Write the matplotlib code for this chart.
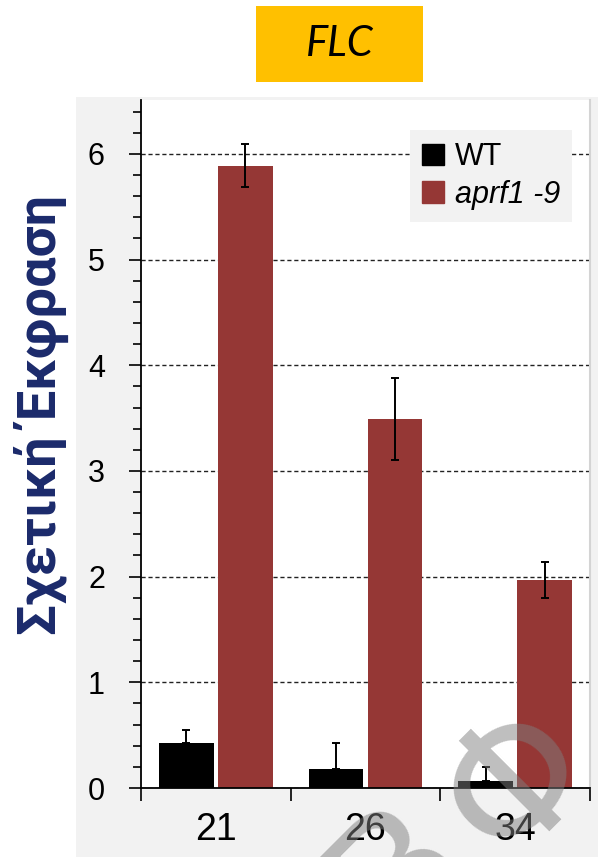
import numpy as np
import matplotlib
matplotlib.use('Agg')
import matplotlib.pyplot as plt
from matplotlib.patches import Patch, Rectangle
from matplotlib.ticker import MultipleLocator

# values
days = ['21', '26', '34']
wt_mean = [0.43, 0.18, 0.07]
wt_err = [0.12, 0.25, 0.13]
mut_mean = [5.89, 3.49, 1.97]
mut_err = [0.20, 0.39, 0.17]

RED = '#953735'
NAVY = '#1b2a6b'
W, H = 598, 857

plt.rcParams['font.family'] = ['Liberation Sans', 'DejaVu Sans']

fig = plt.figure(figsize=(W / 100, H / 100), dpi=100)
fig.patch.set_facecolor('white')

# grey chart area behind the plot
fig.add_artist(Rectangle((76 / W, 0), 1 - 76 / W, 1 - 97 / H, transform=fig.transFigure,
                         facecolor='#f2f2f2', edgecolor='none', zorder=0))

ax = fig.add_axes([141 / W, 1 - 788 / H, (590 - 141) / W, (788 - 100) / H])
ax.set_facecolor('white')

x = np.arange(len(days))
bw = 0.365
ax.bar(x - 0.198, wt_mean, bw, color='black', zorder=2,
       yerr=[np.zeros(len(days)), wt_err],
       error_kw=dict(ecolor='black', elinewidth=1.4, capsize=3, capthick=1.4))
ax.bar(x + 0.198, mut_mean, bw, color=RED, zorder=2,
       yerr=mut_err,
       error_kw=dict(ecolor='black', elinewidth=1.4, capsize=3, capthick=1.4))

ax.set_xlim(-0.5, 2.5)
ax.set_ylim(0, 6.51)

ax.set_yticks(range(7))
ax.yaxis.set_minor_locator(MultipleLocator(0.2))
ax.yaxis.grid(True, which='major', linestyle=(0, (3, 2)), color='#222222', linewidth=1.0)
ax.set_axisbelow(True)

ax.set_xticks([-0.5, 0.5, 1.5, 2.5])
ax.set_xticklabels([])
ax.set_xticks(x, minor=True)
ax.set_xticklabels(days, minor=True)

ax.tick_params(axis='y', which='major', direction='out', length=9, width=1.2,
               labelsize=22, pad=17)
ax.tick_params(axis='y', which='minor', direction='out', length=6, width=1.2)
ax.tick_params(axis='x', which='major', direction='out', length=9, width=1.2)
ax.tick_params(axis='x', which='minor', length=0, labelsize=27, pad=17)

for s in ['left', 'bottom']:
    ax.spines[s].set_linewidth(1.3)
ax.spines['top'].set_visible(False)
ax.spines['right'].set_color('#d4d4d4')
ax.spines['right'].set_linewidth(1.5)

handles = [Patch(color='black', label='WT'), Patch(color=RED, label='aprf1 -9')]
leg = ax.legend(handles=handles, loc='upper right',
                bbox_to_anchor=((572 - 141) / 449, (788 - 130) / 688),
                frameon=True, facecolor='#f2f2f2', edgecolor='none', framealpha=1,
                fancybox=False, fontsize=22, handlelength=0.7, handleheight=0.7,
                handletextpad=0.35, borderpad=0.4, labelspacing=0.25, borderaxespad=0)
leg.get_texts()[1].set_style('italic')

# title box
fig.add_artist(Rectangle((256 / W, 1 - 82 / H), (423 - 256) / W, 76 / H,
                         transform=fig.transFigure, facecolor='#FFC000', edgecolor='none'))
fig.text(339.5 / W, 1 - 44 / H, 'FLC', style='italic', family=['Lato', 'DejaVu Sans'],
         fontsize=30, ha='center', va='center')

fig.text(41 / W, 1 - 415 / H, 'Σχετική Έκφραση', rotation=90, ha='center', va='center',
         fontsize=39, fontweight='bold', color=NAVY, family=['Roboto', 'DejaVu Sans'])

# faint watermark at the bottom right
fig.text(518 / W, 1 - 784 / H, 'Φ', rotation=45, ha='center', va='center',
         rotation_mode='anchor', fontsize=125, color='#7f7f7f', alpha=0.5,
         family=['DejaVu Sans'], zorder=5)
fig.text(400 / W, 1 - 872 / H, 'Β', rotation=45, ha='center', va='center',
         rotation_mode='anchor', fontsize=125, color='#7f7f7f', alpha=0.5,
         family=['DejaVu Sans'], zorder=5)

fig.savefig('out.png', dpi=100)
